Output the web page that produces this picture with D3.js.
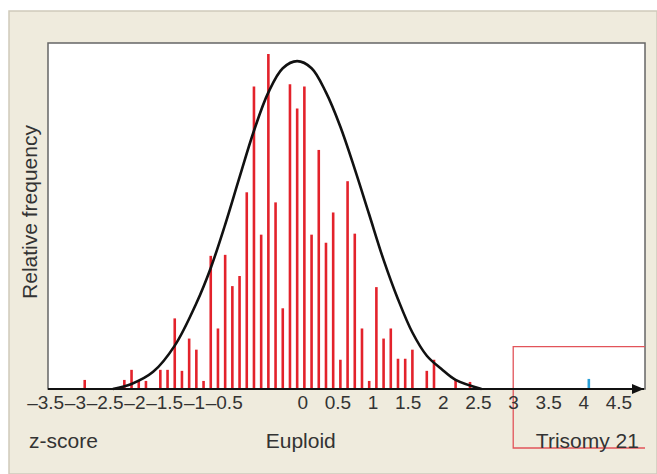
<!DOCTYPE html>
<html>
<head>
<meta charset="utf-8">
<script src="https://cdn.jsdelivr.net/npm/d3@7"></script>
<style>
  body { margin: 0; background: #fff; }
  text { font-family: "Liberation Sans", Arial, sans-serif; fill: #333; }
</style>
</head>
<body>
<div id="chart"></div>
<script>

// Euploid histogram: z-score of each bin and its count
var binZ = [-2.95, -2.4, -2.3, -2.2, -2.1, -1.9, -1.8, -1.7, -1.6, -1.5, -1.4, -1.3, -1.2, -1.1, -1.0,
            -0.9, -0.8, -0.7, -0.6, -0.5, -0.4, -0.3, -0.2, -0.1, 0.0, 0.1, 0.2, 0.3, 0.4, 0.5,
            0.6, 0.7, 0.8, 0.9, 1.0, 1.1, 1.2, 1.3, 1.4, 1.5, 1.6, 1.8, 1.9, 2.2, 2.4];
var binCount = [0.9, 0.9, 1.9, 0.9, 0.8, 1.9, 1.9, 7.0, 1.8, 5.0, 3.9, 0.8, 13.2, 6.0, 13.3,
                10.2, 11.2, 19.5, 30.0, 15.3, 33.2, 18.5, 8.0, 30.2, 27.8, 30.0, 15.3, 23.7, 14.5, 17.5,
                2.9, 20.6, 15.4, 6.0, 0.8, 10.1, 5.0, 6.0, 3.0, 3.0, 3.9, 1.8, 2.9, 0.9, 0.7];

// Trisomy 21 case
var trisomyZ = [4.05];
var trisomyCount = [1.0];

// Outline of the fitted normal curve
var curveZ = [-2.56, -2.3, -2.0, -1.7, -1.4, -1.2, -1.0, -0.8, -0.6, -0.4, -0.2, 0.0,
              0.2, 0.4, 0.6, 0.8, 1.0, 1.2, 1.4, 1.6, 1.8, 2.0, 2.2, 2.56];
var curveY = [0.0, 0.5, 1.7, 4.3, 8.5, 12.0, 16.3, 21.0, 25.6, 29.4, 31.8, 32.5,
              31.8, 29.4, 26.0, 21.8, 17.3, 12.8, 8.9, 5.6, 3.3, 2.0, 0.9, 0.0];

var tickValues = [-3.5, -3, -2.5, -2, -1.5, -1, -0.5, 0, 0.5, 1, 1.5, 2, 2.5, 3, 3.5, 4, 4.5];
var groupLabels = ["z-score", "Euploid", "Trisomy 21"];
var yLabel = "Relative frequency";
var trisomyFrom = 3;

var width = 657, height = 474;
var box = { left: 48, top: 43, right: 645, bottom: 389 };

var svg = d3.select("#chart").append("svg")
    .attr("width", width)
    .attr("height", height);

// beige panel
svg.append("rect")
    .attr("x", 9).attr("y", 11)
    .attr("width", width - 9).attr("height", height - 11)
    .attr("fill", "#efebdd")
    .attr("stroke", "#cfcabb")
    .attr("stroke-width", 1.5);

// white plot area
svg.append("rect")
    .attr("x", box.left).attr("y", box.top)
    .attr("width", box.right - box.left).attr("height", box.bottom - box.top)
    .attr("fill", "#fff")
    .attr("stroke", "#666")
    .attr("stroke-width", 1.5);

var x = d3.scaleLinear().domain([-3.46, 4.83]).range([box.left, box.right]);
var y = d3.scaleLinear().domain([0, 34.3]).range([box.bottom, box.top]);

// the printed tick labels sit a bit off the true positions (negatives squeezed left),
// so they get their own piecewise scale
var labelX = d3.scaleLinear()
    .domain([-3.5, -0.5, 0, 4.5])
    .range([-3.5, -1.02, 0.07, 4.46].map(x));

// trisomy bracket
var bracketTop = y(4.2), bracketBottom = 448;
svg.append("path")
    .attr("d", "M" + box.right + "," + bracketTop + "H" + x(trisomyFrom) +
               "V" + bracketBottom + "H" + box.right)
    .attr("fill", "none")
    .attr("stroke", "#e2545a")
    .attr("stroke-width", 1.3);

// histogram bars
svg.selectAll("line.bar")
    .data(binZ)
    .enter()
    .append("line")
    .attr("class", "bar")
    .attr("x1", function(d) { return x(d); })
    .attr("x2", function(d) { return x(d); })
    .attr("y1", y(0))
    .attr("y2", function(d, i) { return y(binCount[i]); })
    .attr("stroke", "#e3222b")
    .attr("stroke-width", 2.6);

svg.selectAll("line.tri")
    .data(trisomyZ)
    .enter()
    .append("line")
    .attr("class", "tri")
    .attr("x1", function(d) { return x(d); })
    .attr("x2", function(d) { return x(d); })
    .attr("y1", y(0))
    .attr("y2", function(d, i) { return y(trisomyCount[i]); })
    .attr("stroke", "#2a9fd6")
    .attr("stroke-width", 2.6);

// normal curve
var line = d3.line()
    .x(function(d) { return x(d); })
    .y(function(d, i) { return y(curveY[i]); })
    .curve(d3.curveCatmullRom.alpha(0.5));

svg.append("path")
    .attr("d", line(curveZ))
    .attr("fill", "none")
    .attr("stroke", "#111")
    .attr("stroke-width", 2.6);

// x axis with arrow
svg.append("defs").append("marker")
    .attr("id", "arrow")
    .attr("viewBox", "0 0 12 10")
    .attr("refX", 12).attr("refY", 5)
    .attr("markerWidth", 12).attr("markerHeight", 10)
    .attr("markerUnits", "userSpaceOnUse")
    .attr("orient", "auto")
    .append("path")
    .attr("d", "M0,0L12,5L0,10Z")
    .attr("fill", "#111");

svg.append("line")
    .attr("x1", box.left).attr("x2", box.right - 1)
    .attr("y1", y(0)).attr("y2", y(0))
    .attr("stroke", "#111")
    .attr("stroke-width", 2.2)
    .attr("marker-end", "url(#arrow)");

var axis = d3.axisBottom(labelX)
    .tickValues(tickValues)
    .tickSize(0)
    .tickPadding(7)
    .tickFormat(function(d) { return (d < 0 ? "\u2013" : "") + Math.abs(d); });

var gAxis = svg.append("g")
    .attr("transform", "translate(0," + y(0) + ")")
    .call(axis);
gAxis.select(".domain").remove();
gAxis.selectAll("text")
    .style("font-size", "19px")
    .attr("fill", "#333");

// group labels under the axis
var groupX = [box.left - 19, x(0.05), x(4.03)];
var groupAnchor = ["start", "middle", "middle"];
svg.selectAll("text.group")
    .data(groupLabels)
    .enter()
    .append("text")
    .attr("class", "group")
    .attr("x", function(d, i) { return groupX[i]; })
    .attr("y", 448)
    .attr("text-anchor", function(d, i) { return groupAnchor[i]; })
    .style("font-size", "21px")
    .text(function(d) { return d; });

// y label
svg.append("text")
    .attr("transform", "translate(37," + ((box.top + box.bottom) / 2 - 4) + ") rotate(-90)")
    .attr("text-anchor", "middle")
    .style("font-size", "21px")
    .text(yLabel);

</script>
</body>
</html>
